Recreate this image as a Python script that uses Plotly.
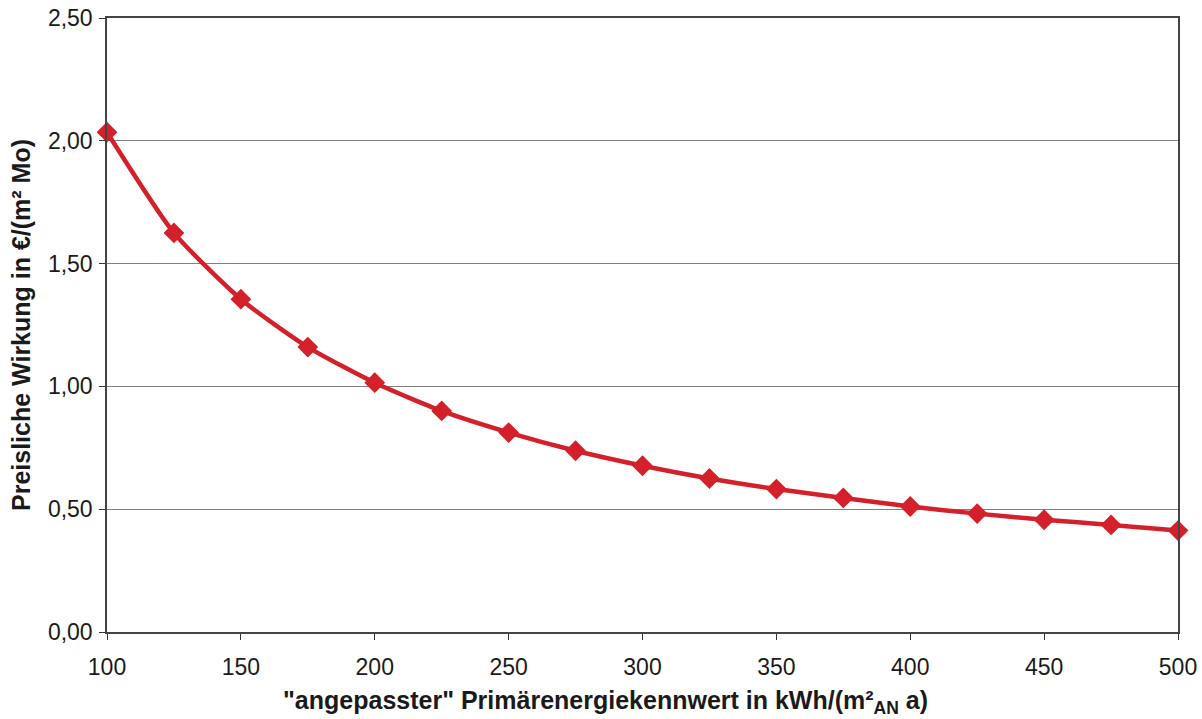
import plotly.graph_objects as go

x_values = [100, 125, 150, 175, 200, 225, 250, 275, 300, 325, 350, 375, 400, 425, 450, 475, 500]
y_values = [2.035, 1.625, 1.355, 1.16, 1.015, 0.90, 0.812, 0.738, 0.677, 0.625, 0.582, 0.546, 0.511, 0.482, 0.457, 0.436, 0.413]
x_ticks = [100, 150, 200, 250, 300, 350, 400, 450, 500]
y_ticks = [0, 0.5, 1.0, 1.5, 2.0, 2.5]

fig = go.Figure()
fig.add_trace(go.Scatter(
    x=x_values, y=y_values, mode="lines+markers",
    line=dict(color="#d3202b", width=4.5, shape="spline", smoothing=0.6),
    marker=dict(symbol="diamond", size=16, color="#d3202b"),
    cliponaxis=False, showlegend=False,
))

font = "Liberation Sans, Arial, sans-serif"
fig.update_layout(
    width=1202, height=719,
    margin=dict(l=107, r=24, t=18, b=87),
    paper_bgcolor="white", plot_bgcolor="white",
    separators=",.",
    font=dict(family=font, size=23, color="#1a1a1a"),
    xaxis=dict(
        range=[100, 500], tickvals=x_ticks, ticks="outside", ticklen=6,
        tickcolor="#333", showline=True, linecolor="#444", linewidth=1.5,
        mirror=True, showgrid=False, zeroline=False, automargin=False,
        tickfont=dict(size=23), ticklabelstandoff=8, ticklabeloverflow="allow",
    ),
    yaxis=dict(
        range=[0, 2.5], tickvals=y_ticks, tickformat=".2f", ticks="outside", ticklen=6,
        tickcolor="#333", showline=True, linecolor="#444", linewidth=1.5,
        mirror=True, showgrid=True, gridcolor="#808080", gridwidth=1, zeroline=False,
        automargin=False, tickfont=dict(size=23), ticklabelstandoff=2, ticklabeloverflow="allow",
        title=dict(text="<b>Preisliche Wirkung in €/(m² Mo)</b>", font=dict(size=25), standoff=10),
    ),
    annotations=[dict(
        text='<b>"angepasster" Primärenergiekennwert in kWh/(m²<sub>AN</sub> a)</b>',
        xref="paper", yref="paper", x=0.465, y=0, xanchor="center", yanchor="middle",
        yshift=-70, showarrow=False, font=dict(size=25, family=font, color="#1a1a1a"),
    )],
)

fig.write_html(
    "out.html",
    config={"displayModeBar": False},
    post_script="document.body.style.margin='0';document.body.style.overflow='hidden';",
)
